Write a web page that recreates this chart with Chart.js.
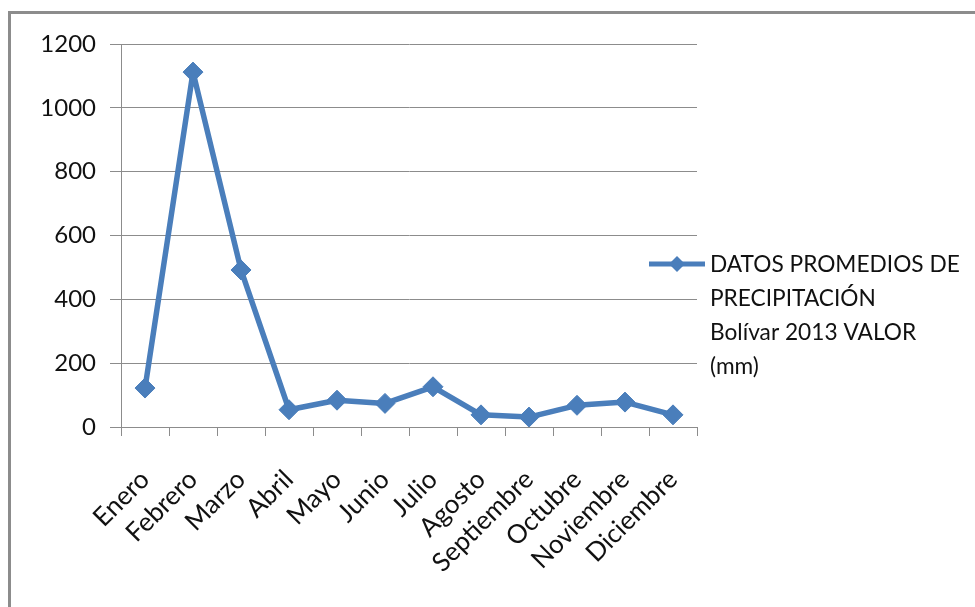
<!DOCTYPE html>
<html lang="es">
<head>
  <meta charset="UTF-8">
  <title>Precipitación Bolívar 2013</title>
  <script src="https://cdn.jsdelivr.net/npm/chart.js"></script>
  <style>
    html, body {
      margin: 0;
      padding: 0;
      background: #fff;
      overflow: hidden;
    }
    .wrap {
      position: relative;
      width: 975px;
      height: 607px;
    }
    .frame {
      position: absolute;
      left: 8px;
      top: 11px;
      width: 1100px;
      height: 800px;
      border: 3px solid #8c8c8c;
    }
    canvas {
      position: absolute;
      left: 0;
      top: 0;
    }
  </style>
</head>
<body>
  <div class="wrap">
    <div class="frame"></div>
    <canvas id="lluvia" width="975" height="607"></canvas>
  </div>

  <script>
    const meses = ["Enero", "Febrero", "Marzo", "Abril", "Mayo", "Junio", "Julio",
                   "Agosto", "Septiembre", "Octubre", "Noviembre", "Diciembre"];
    const precipitacion = [122, 1112, 492, 54, 84, 74, 126, 38, 31, 68, 78, 38];
    const etiquetaLineas = ["DATOS PROMEDIOS DE", "PRECIPITACIÓN", "Bolívar 2013 VALOR", "(mm)"];
    const ejeY = { min: 0, max: 1200, paso: 200 };

    const azul = "#4a7ebb";
    const gris = "#8c8c8c";
    const fuente = "Lato, 'Open Sans', sans-serif";

    // leyenda a la derecha, texto en varias lineas como en Excel
    const leyenda = {
      id: "leyenda",
      afterDraw(chart) {
        const ctx = chart.ctx;
        const x0 = chart.chartArea.right - 48;
        const y0 = 264;
        ctx.save();
        ctx.strokeStyle = azul;
        ctx.lineWidth = 5;
        ctx.beginPath();
        ctx.moveTo(x0, y0);
        ctx.lineTo(x0 + 56, y0);
        ctx.stroke();
        ctx.fillStyle = azul;
        ctx.beginPath();
        ctx.moveTo(x0 + 28, y0 - 8);
        ctx.lineTo(x0 + 36, y0);
        ctx.lineTo(x0 + 28, y0 + 8);
        ctx.lineTo(x0 + 20, y0);
        ctx.closePath();
        ctx.fill();
        ctx.fillStyle = "#111";
        ctx.font = "22.7px " + fuente;
        ctx.textBaseline = "middle";
        ctx.textAlign = "left";
        etiquetaLineas.forEach((t, i) => {
          ctx.fillText(t, x0 + 61, y0 + 1 + i * 34);
        });
        ctx.restore();
      }
    };

    new Chart(document.getElementById("lluvia"), {
      type: "line",
      data: {
        labels: meses,
        datasets: [{
          label: etiquetaLineas.join(" "),
          data: precipitacion,
          borderColor: azul,
          backgroundColor: azul,
          borderWidth: 5.5,
          borderJoinStyle: "round",
          pointStyle: "rectRot",
          pointRadius: 10,
          pointHoverRadius: 10,
          pointBorderWidth: 1,
          tension: 0
        }]
      },
      options: {
        responsive: false,
        animation: false,
        layout: { padding: { top: 44, right: 278, bottom: 0, left: 0 } },
        plugins: {
          legend: { display: false },
          tooltip: { enabled: false }
        },
        scales: {
          x: {
            offset: true,
            grid: {
              offset: true,
              drawOnChartArea: false,
              color: gris,
              tickLength: 9
            },
            border: { color: gris, width: 1 },
            ticks: {
              color: "#111",
              font: { family: fuente, size: 26 },
              maxRotation: 45,
              minRotation: 45,
              autoSkip: false,
              padding: 28
            },
            afterFit: s => { s.height = 180; }
          },
          y: {
            min: ejeY.min,
            max: ejeY.max,
            grid: {
              color: gris,
              tickLength: 11
            },
            border: { color: gris, width: 1 },
            ticks: {
              stepSize: ejeY.paso,
              color: "#111",
              font: { family: fuente, size: 24 },
              padding: 14,
              callback: v => String(v)
            },
            afterFit: s => { s.width = 121; }
          }
        }
      },
      plugins: [leyenda]
    });
  </script>
</body>
</html>
